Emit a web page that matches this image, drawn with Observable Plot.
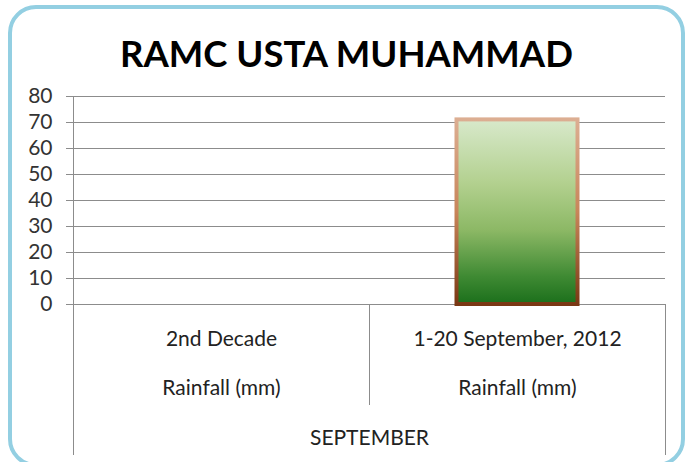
<!DOCTYPE html>
<html>
<head>
<meta charset="utf-8">
<script src="https://cdn.jsdelivr.net/npm/d3@7"></script>
<script src="https://cdn.jsdelivr.net/npm/@observablehq/plot@0.6"></script>
<style>
  html, body { margin: 0; padding: 0; background: #fff; }
  #wrap { position: relative; width: 686px; height: 462px; overflow: hidden; }
  #frame { position: absolute; left: 8px; top: 5px; width: 677px; height: 462px; box-sizing: border-box;
           border: 4px solid #93cfe2; border-radius: 28px; pointer-events: none; }
</style>
</head>
<body>
<div id="wrap"><div id="frame"></div></div>
<script>
const title = "RAMC USTA MUHAMMAD";
const categories = ["2nd Decade", "1-20 September, 2012"];
const rainfall = [null, 71];
const measureLabels = ["Rainfall (mm)", "Rainfall (mm)"];
const groupLabel = ["SEPTEMBER"];
const yTicks = [0, 10, 20, 30, 40, 50, 60, 70, 80];

const bars = categories.map((c, i) => ({category: c, value: rainfall[i]}));
const gridColor = "#8c8c8c";

function gradients() {
  const defs = d3.create("svg:defs");
  const f = defs.append("linearGradient").attr("id", "barFill").attr("x1", 0).attr("y1", 0).attr("x2", 0).attr("y2", 1);
  [["0%", "#d8e9cb"], ["35%", "#b2d08e"], ["60%", "#8cb865"], ["85%", "#3f8a33"], ["100%", "#1b6f1b"]]
    .forEach(([o, c]) => f.append("stop").attr("offset", o).attr("stop-color", c));
  const s = defs.append("linearGradient").attr("id", "barStroke").attr("x1", 0).attr("y1", 0).attr("x2", 0).attr("y2", 1);
  [["0%", "#dcae92"], ["50%", "#c8855a"], ["100%", "#7a3814"]]
    .forEach(([o, c]) => s.append("stop").attr("offset", o).attr("stop-color", c));
  return defs.node();
}

function tableLines(index, scales, values, dimensions) {
  const x = scales.x;
  const y0 = dimensions.height - dimensions.marginBottom;
  const left = dimensions.marginLeft;
  const right = dimensions.width - dimensions.marginRight;
  const mid = x(categories[1]);
  const g = d3.create("svg:g").attr("stroke", gridColor).attr("stroke-width", 1);
  [[left, 151], [mid, 101], [right, 151]].forEach(([px, len]) => {
    g.append("line").attr("x1", px + 0.5).attr("x2", px + 0.5).attr("y1", y0).attr("y2", y0 + len);
  });
  return g.node();
}

const chart = Plot.plot({
  width: 686,
  height: 462,
  marginTop: 96,
  marginBottom: 158,
  marginLeft: 73,
  marginRight: 21,
  style: {fontFamily: "Lato, 'Open Sans', sans-serif", background: "transparent", color: "#222"},
  x: {type: "band", domain: categories, padding: 0, axis: null},
  y: {domain: [0, 80], axis: null},
  marks: [
    gradients,
    Plot.gridY(yTicks, {stroke: gridColor, strokeOpacity: 1}),
    Plot.axisY(yTicks, {tickSize: 7, tickPadding: 14, fontSize: 21, stroke: gridColor, fill: "#333", label: null}),
    Plot.frame({anchor: "left", stroke: gridColor}),
    tableLines,
    Plot.barY(bars, {x: "category", y: "value", fill: "url(#barFill)", stroke: "url(#barStroke)", strokeWidth: 4,
      insetLeft: 87.5, insetRight: 87.5, filter: d => d.value != null}),
    Plot.text(categories, {x: d => d, frameAnchor: "bottom", lineAnchor: "middle", dy: 35, fontSize: 21, fill: "#222"}),
    Plot.text(measureLabels, {x: (d, i) => categories[i], frameAnchor: "bottom", lineAnchor: "middle", dy: 84, fontSize: 21, fill: "#222"}),
    Plot.text(groupLabel, {frameAnchor: "bottom", lineAnchor: "middle", dy: 134, fontSize: 21, fill: "#222"}),
    Plot.text([title], {frameAnchor: "top", lineAnchor: "middle", dx: -23, dy: -41, fontSize: 36.5, fontWeight: "bold", fill: "#000"})
  ]
});
document.getElementById("wrap").insertBefore(chart, document.getElementById("frame"));
</script>
</body>
</html>
